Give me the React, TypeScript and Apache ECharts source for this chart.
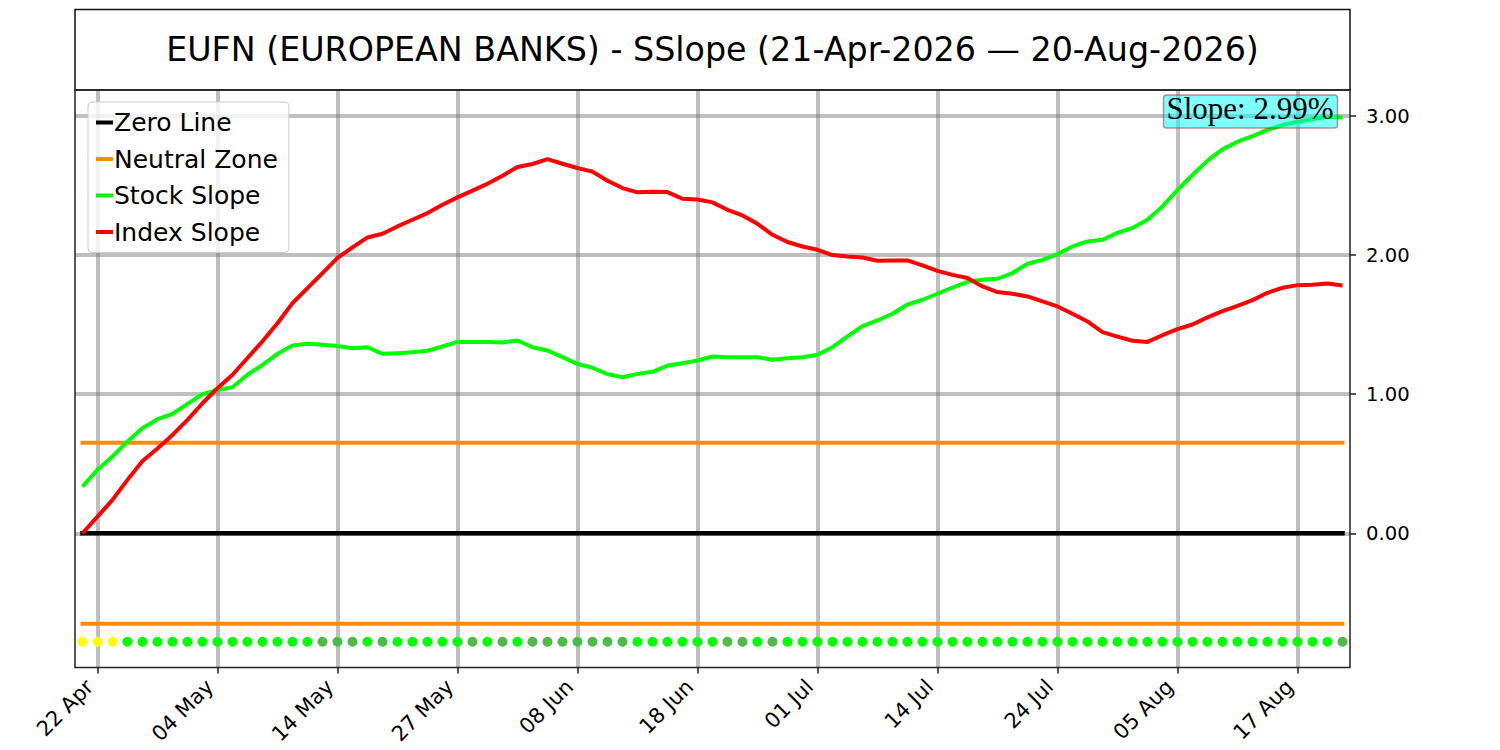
import React, { useEffect, useRef } from "react";
import * as echarts from "echarts";

const title = "EUFN (EUROPEAN BANKS) - SSlope (21-Apr-2026 — 20-Aug-2026)";
const slopeLabel = "Slope: 2.99%";

const dates = [
  "21 Apr", "22 Apr", "23 Apr", "24 Apr", "27 Apr", "28 Apr", "29 Apr", "30 Apr", "01 May", "04 May",
  "05 May", "06 May", "07 May", "08 May", "11 May", "12 May", "13 May", "14 May", "15 May", "18 May",
  "19 May", "20 May", "21 May", "22 May", "26 May", "27 May", "28 May", "29 May", "01 Jun", "02 Jun",
  "03 Jun", "04 Jun", "05 Jun", "08 Jun", "09 Jun", "10 Jun", "11 Jun", "12 Jun", "15 Jun", "16 Jun",
  "17 Jun", "18 Jun", "22 Jun", "23 Jun", "24 Jun", "25 Jun", "26 Jun", "29 Jun", "30 Jun", "01 Jul",
  "02 Jul", "06 Jul", "07 Jul", "08 Jul", "09 Jul", "10 Jul", "13 Jul", "14 Jul", "15 Jul", "16 Jul",
  "17 Jul", "20 Jul", "21 Jul", "22 Jul", "23 Jul", "24 Jul", "27 Jul", "28 Jul", "29 Jul", "30 Jul",
  "31 Jul", "03 Aug", "04 Aug", "05 Aug", "06 Aug", "07 Aug", "10 Aug", "11 Aug", "12 Aug", "13 Aug",
  "14 Aug", "17 Aug", "18 Aug", "19 Aug", "20 Aug",
];

const tickIndex = [1, 9, 17, 25, 33, 41, 49, 57, 65, 73, 81];
const yTicks = [0, 1, 2, 3];

const stockSlope = [
  0.336, 0.456, 0.552, 0.66, 0.755, 0.82, 0.858, 0.93, 1.0, 1.03,
  1.05, 1.14, 1.21, 1.29, 1.35, 1.362, 1.355, 1.347, 1.33, 1.338,
  1.29, 1.295, 1.302, 1.312, 1.343, 1.376, 1.376, 1.376, 1.372, 1.386,
  1.338, 1.314, 1.266, 1.218, 1.19, 1.144, 1.122, 1.146, 1.161, 1.206,
  1.223, 1.242, 1.271, 1.266, 1.266, 1.266, 1.247, 1.259, 1.266, 1.283,
  1.338, 1.415, 1.49, 1.53, 1.578, 1.645, 1.679, 1.722, 1.767, 1.808,
  1.823, 1.83, 1.871, 1.938, 1.966, 2.007, 2.062, 2.098, 2.11, 2.16,
  2.195, 2.255, 2.35, 2.468, 2.576, 2.679, 2.76, 2.815, 2.856, 2.9,
  2.935, 2.959, 2.976, 2.995, 2.99,
];

const indexSlope = [
  0.0, 0.12, 0.24, 0.384, 0.52, 0.61, 0.707, 0.815, 0.935, 1.043,
  1.14, 1.26, 1.38, 1.51, 1.655, 1.763, 1.87, 1.98, 2.055, 2.127,
  2.153, 2.206, 2.254, 2.302, 2.362, 2.415, 2.463, 2.513, 2.571, 2.633,
  2.655, 2.69, 2.657, 2.626, 2.6, 2.535, 2.482, 2.451, 2.456, 2.453,
  2.405, 2.4, 2.379, 2.326, 2.285, 2.225, 2.146, 2.094, 2.062, 2.038,
  2.0, 1.99, 1.983, 1.959, 1.962, 1.962, 1.926, 1.887, 1.858, 1.835,
  1.775, 1.734, 1.722, 1.703, 1.667, 1.631, 1.578, 1.523, 1.446, 1.414,
  1.384, 1.376, 1.424, 1.468, 1.501, 1.552, 1.597, 1.635, 1.676, 1.729,
  1.765, 1.784, 1.787, 1.796, 1.782,
];

const neutralZone = 0.65;
const signalRowLevel = -0.78;

// Y = yellow, G = bright green, D = dull green
const signalStatus = [
  "Y", "Y", "Y", "G", "G", "G", "G", "G", "G", "G",
  "G", "G", "G", "G", "G", "G", "D", "D", "D", "G",
  "D", "G", "G", "G", "G", "G", "D", "G", "D", "G",
  "D", "D", "D", "D", "D", "D", "D", "G", "G", "G",
  "G", "G", "G", "D", "D", "G", "D", "G", "G", "G",
  "G", "G", "G", "G", "G", "G", "G", "G", "G", "G",
  "G", "G", "G", "G", "G", "G", "G", "G", "G", "G",
  "G", "G", "G", "G", "G", "G", "G", "G", "G", "G",
  "G", "G", "G", "G", "D",
];

const statusColors: Record<string, string> = { Y: "#ffff00", G: "#00ff00", D: "#4cbb47" };

export default function App() {
  const ref = useRef<HTMLDivElement>(null);

  useEffect(() => {
    document.body.style.margin = "0";
    const chart = echarts.init(ref.current!, null, { renderer: "svg" });
    const last = dates.length - 1;
    const font = "'DejaVu Sans', sans-serif";
    const gridLine = { show: true, lineStyle: { color: "rgba(128,128,128,0.5)", width: 4, type: "solid" } };

    chart.setOption({
      animation: false,
      backgroundColor: "#ffffff",
      grid: { left: 75, right: 150, top: 90, bottom: 82.5, containLabel: false, outerBoundsMode: "none" },
      xAxis: {
        type: "value",
        position: "bottom",
        min: -0.5,
        max: 84.5,
        axisLine: { show: false, onZero: false },
        splitLine: gridLine,
        axisTick: { show: true, customValues: tickIndex, length: 6, lineStyle: { color: "#222", width: 1.5 } },
        axisLabel: {
          customValues: tickIndex,
          formatter: (v: number) => dates[Math.round(v)],
          rotate: 45,
          fontSize: 21,
          fontFamily: font,
          color: "#000",
          margin: 8,
          padding: [0, 11, 0, 0],
        },
      },
      yAxis: {
        type: "value",
        position: "right",
        min: -0.965,
        max: 3.187,
        axisLine: { show: false, onZero: false },
        splitLine: gridLine,
        axisTick: { show: true, customValues: yTicks, length: 6, lineStyle: { color: "#222", width: 1.5 } },
        axisLabel: {
          customValues: yTicks,
          formatter: (v: number) => v.toFixed(2),
          fontSize: 19.6,
          fontFamily: font,
          color: "#000",
          margin: 16,
        },
      },
      legend: {
        left: 88,
        top: 102,
        orient: "vertical",
        icon: "rect",
        itemWidth: 17,
        itemHeight: 4,
        itemGap: 7.5,
        padding: [6, 11, 6, 8],
        backgroundColor: "rgba(255,255,255,0.8)",
        borderColor: "#cccccc",
        borderWidth: 1,
        borderRadius: 4,
        selectedMode: false,
        textStyle: { fontSize: 25, fontFamily: font, color: "#000", lineHeight: 29, padding: [0, 0, 0, -4] },
        data: ["Zero Line", "Neutral Zone", "Stock Slope", "Index Slope"],
        z: 20,
      },
      series: [
        {
          name: "Zero Line",
          type: "line",
          color: "#000000",
          showSymbol: false,
          z: 2,
          lineStyle: { color: "#000000", width: 4.5, cap: "square" },
          data: [[0, 0], [last, 0]],
        },
        {
          name: "Neutral Zone",
          type: "line",
          color: "#ff8c00",
          showSymbol: false,
          z: 2,
          lineStyle: { color: "#ff8c00", width: 4, cap: "square" },
          data: [[0, neutralZone], [last, neutralZone]],
        },
        {
          name: "Neutral Zone",
          type: "line",
          color: "#ff8c00",
          showSymbol: false,
          z: 2,
          lineStyle: { color: "#ff8c00", width: 4, cap: "square" },
          data: [[0, -neutralZone], [last, -neutralZone]],
        },
        {
          name: "Stock Slope",
          type: "line",
          color: "#00ff00",
          showSymbol: false,
          z: 3,
          lineStyle: { color: "#00ff00", width: 4, join: "round" },
          data: stockSlope.map((v, i) => [i, v]),
        },
        {
          name: "Index Slope",
          type: "line",
          color: "#ff0000",
          showSymbol: false,
          z: 4,
          lineStyle: { color: "#ff0000", width: 4, join: "round" },
          data: indexSlope.map((v, i) => [i, v]),
        },
        {
          name: "Signal",
          type: "scatter",
          symbolSize: 10,
          z: 3,
          data: signalStatus.map((s, i) => ({
            value: [i, signalRowLevel],
            itemStyle: { color: statusColors[s], opacity: 1 },
          })),
        },
      ],
      graphic: [
        {
          type: "rect",
          z: 30,
          silent: true,
          shape: { x: 75, y: 9.5, width: 1275, height: 80.5 },
          style: { fill: "none", stroke: "#111", lineWidth: 1.5 },
        },
        {
          type: "text",
          z: 30,
          x: 712.5,
          y: 49.5,
          style: {
            text: title,
            font: "33.3px 'DejaVu Sans', sans-serif",
            fill: "#000",
            textAlign: "center",
            textVerticalAlign: "middle",
          },
        },
        {
          type: "rect",
          z: 30,
          silent: true,
          shape: { x: 75, y: 90, width: 1275, height: 577.5 },
          style: { fill: "none", stroke: "#222", lineWidth: 1.5 },
        },
        {
          type: "rect",
          z: 31,
          shape: { x: 1163.5, y: 95, width: 174, height: 33, r: 3 },
          style: { fill: "rgba(0,255,255,0.5)", stroke: "rgba(150,40,40,0.5)", lineWidth: 1.5 },
        },
        {
          type: "text",
          z: 32,
          x: 1250,
          y: 108.5,
          style: {
            text: slopeLabel,
            font: "31px 'Liberation Serif', serif",
            fill: "#000",
            textAlign: "center",
            textVerticalAlign: "middle",
          },
        },
      ],
    });

    return () => chart.dispose();
  }, []);

  return <div ref={ref} style={{ width: 1500, height: 750 }} />;
}
